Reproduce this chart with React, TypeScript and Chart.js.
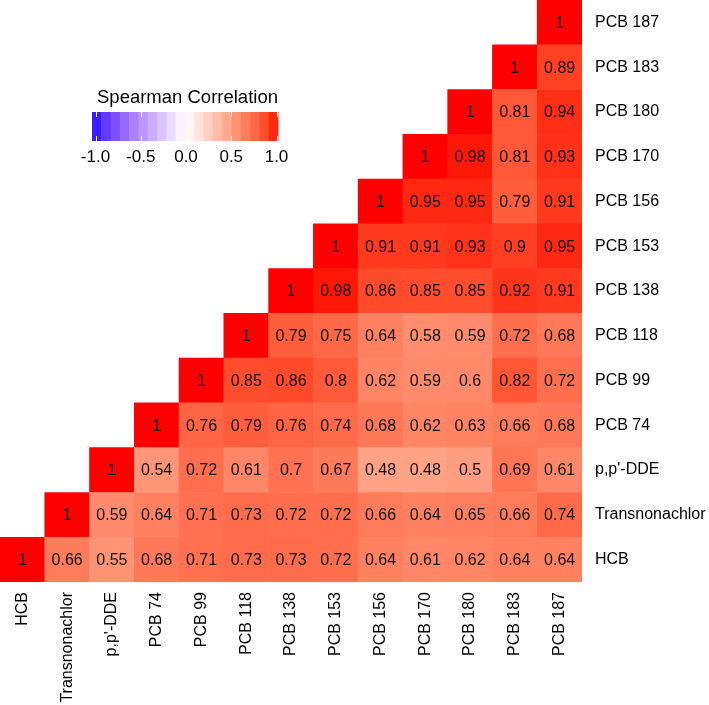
import React, { useEffect, useRef } from "react";
import { Chart, registerables } from "chart.js";

Chart.register(...registerables);

// Variable names (columns left→right, rows bottom→top)
const variables = [
  "HCB",
  "Transnonachlor",
  "p,p'-DDE",
  "PCB 74",
  "PCB 99",
  "PCB 118",
  "PCB 138",
  "PCB 153",
  "PCB 156",
  "PCB 170",
  "PCB 180",
  "PCB 183",
  "PCB 187",
];

// Each row lists correlations starting at the diagonal, going right
const rowHCB = [1, 0.66, 0.55, 0.68, 0.71, 0.73, 0.73, 0.72, 0.64, 0.61, 0.62, 0.64, 0.64];
const rowTransnonachlor = [1, 0.59, 0.64, 0.71, 0.73, 0.72, 0.72, 0.66, 0.64, 0.65, 0.66, 0.74];
const rowDDE = [1, 0.54, 0.72, 0.61, 0.7, 0.67, 0.48, 0.48, 0.5, 0.69, 0.61];
const rowPCB74 = [1, 0.76, 0.79, 0.76, 0.74, 0.68, 0.62, 0.63, 0.66, 0.68];
const rowPCB99 = [1, 0.85, 0.86, 0.8, 0.62, 0.59, 0.6, 0.82, 0.72];
const rowPCB118 = [1, 0.79, 0.75, 0.64, 0.58, 0.59, 0.72, 0.68];
const rowPCB138 = [1, 0.98, 0.86, 0.85, 0.85, 0.92, 0.91];
const rowPCB153 = [1, 0.91, 0.91, 0.93, 0.9, 0.95];
const rowPCB156 = [1, 0.95, 0.95, 0.79, 0.91];
const rowPCB170 = [1, 0.98, 0.81, 0.93];
const rowPCB180 = [1, 0.81, 0.94];
const rowPCB183 = [1, 0.89];
const rowPCB187 = [1];

const rows = [
  rowHCB,
  rowTransnonachlor,
  rowDDE,
  rowPCB74,
  rowPCB99,
  rowPCB118,
  rowPCB138,
  rowPCB153,
  rowPCB156,
  rowPCB170,
  rowPCB180,
  rowPCB183,
  rowPCB187,
];

const legendTitle = "Spearman Correlation";
const legendTicks = [-1, -0.5, 0, 0.5, 1];
const legendTickLabels = ["-1.0", "-0.5", "0.0", "0.5", "1.0"];

const FONT = "'Liberation Sans', Arial, Helvetica, sans-serif";

// ---- CIELAB colour interpolation (white -> red / white -> blue) ----
function toLin(c: number) {
  c /= 255;
  return c <= 0.04045 ? c / 12.92 : Math.pow((c + 0.055) / 1.055, 2.4);
}
function fromLin(c: number) {
  const v = c <= 0.0031308 ? 12.92 * c : 1.055 * Math.pow(c, 1 / 2.4) - 0.055;
  return Math.max(0, Math.min(255, Math.round(v * 255)));
}
const Xn = 0.95047, Yn = 1.0, Zn = 1.08883;
function rgbToLab(r: number, g: number, b: number) {
  const R = toLin(r), G = toLin(g), B = toLin(b);
  const X = 0.4124564 * R + 0.3575761 * G + 0.1804375 * B;
  const Y = 0.2126729 * R + 0.7151522 * G + 0.072175 * B;
  const Z = 0.0193339 * R + 0.119192 * G + 0.9503041 * B;
  const f = (t: number) => (t > 0.008856 ? Math.cbrt(t) : 7.787 * t + 16 / 116);
  const fx = f(X / Xn), fy = f(Y / Yn), fz = f(Z / Zn);
  return [116 * fy - 16, 500 * (fx - fy), 200 * (fy - fz)];
}
function labToRgb(L: number, a: number, b: number) {
  const fy = (L + 16) / 116;
  const fx = fy + a / 500;
  const fz = fy - b / 200;
  const inv = (t: number) => (t * t * t > 0.008856 ? t * t * t : (t - 16 / 116) / 7.787);
  const X = inv(fx) * Xn, Y = inv(fy) * Yn, Z = inv(fz) * Zn;
  const R = 3.2404542 * X - 1.5371385 * Y - 0.4985314 * Z;
  const G = -0.969266 * X + 1.8760108 * Y + 0.041556 * Z;
  const B = 0.0556434 * X - 0.2040259 * Y + 1.0572252 * Z;
  return `rgb(${fromLin(R)},${fromLin(G)},${fromLin(B)})`;
}
const LAB_WHITE = rgbToLab(255, 255, 255);
const LAB_RED = rgbToLab(255, 0, 0);
const LAB_BLUE = rgbToLab(0, 0, 255);
function colorFor(v: number) {
  const t = Math.min(1, Math.abs(v));
  const end = v >= 0 ? LAB_RED : LAB_BLUE;
  return labToRgb(
    LAB_WHITE[0] + (end[0] - LAB_WHITE[0]) * t,
    LAB_WHITE[1] + (end[1] - LAB_WHITE[1]) * t,
    LAB_WHITE[2] + (end[2] - LAB_WHITE[2]) * t
  );
}

function valueAt(rowIdx: number, colIdx: number): number | null {
  const k = colIdx - rowIdx;
  if (k < 0) return null;
  const v = rows[rowIdx][k];
  return v === undefined ? null : v;
}

const cellLabelPlugin = {
  id: "cellLabels",
  afterDatasetsDraw(chart: any) {
    const ctx = chart.ctx;
    ctx.save();
    ctx.font = `16px ${FONT}`;
    ctx.fillStyle = "#111111";
    ctx.textAlign = "center";
    ctx.textBaseline = "middle";
    chart.data.datasets.forEach((ds: any, di: number) => {
      const meta = chart.getDatasetMeta(di);
      meta.data.forEach((el: any, ci: number) => {
        const v = valueAt(di, ci);
        if (v === null || !el) return;
        const cx = el.x;
        const cy = (el.y + el.base) / 2;
        ctx.fillText(String(v), cx, cy + 1);
      });
    });
    ctx.restore();
  },
};

const colorbarPlugin = {
  id: "colorbar",
  afterDraw(chart: any) {
    const ctx = chart.ctx;
    const barLeft = 92, barRight = 278, barTop = 112, barBottom = 141;
    const nbin = 20;
    const bw = (barRight - barLeft) / nbin;
    ctx.save();
    // title
    ctx.font = `18.5px ${FONT}`;
    ctx.fillStyle = "#000";
    ctx.textAlign = "left";
    ctx.textBaseline = "middle";
    ctx.fillText(legendTitle, 97, 98);
    // bins
    for (let i = 0; i < nbin; i++) {
      const v = -1 + (2 * (i + 0.5)) / nbin;
      ctx.fillStyle = colorFor(v);
      ctx.fillRect(barLeft + i * bw, barTop, bw + 0.5, barBottom - barTop);
    }
    const xOf = (v: number) => 186 + v * 90.5;
    // tick marks
    ctx.strokeStyle = "#ffffff";
    ctx.lineWidth = 1;
    legendTicks.forEach((v) => {
      const x = Math.round(xOf(v)) + 0.5;
      ctx.beginPath();
      ctx.moveTo(x, barTop);
      ctx.lineTo(x, barTop + 5);
      ctx.moveTo(x, barBottom - 5);
      ctx.lineTo(x, barBottom);
      ctx.stroke();
    });
    // tick labels
    ctx.font = `17px ${FONT}`;
    ctx.fillStyle = "#000";
    ctx.textAlign = "center";
    legendTickLabels.forEach((lab, i) => {
      ctx.fillText(lab, xOf(legendTicks[i]), 157);
    });
    ctx.restore();
  },
};

export default function App() {
  const ref = useRef<HTMLCanvasElement | null>(null);

  useEffect(() => {
    if (!ref.current) return;
    const datasets = rows.map((_, ri) => ({
      label: variables[ri],
      data: variables.map((_, ci) => (valueAt(ri, ci) === null ? null : [ri, ri + 1])),
      backgroundColor: variables.map((_, ci) => {
        const v = valueAt(ri, ci);
        return v === null ? "rgba(0,0,0,0)" : colorFor(v);
      }),
      borderWidth: 0,
      barPercentage: 1,
      categoryPercentage: 1,
      grouped: false,
    }));

    const chart = new Chart(ref.current, {
      type: "bar",
      data: { labels: variables, datasets: datasets as any },
      options: {
        animation: false,
        responsive: false,
        maintainAspectRatio: false,
        layout: { padding: 0 },
        plugins: {
          legend: { display: false },
          tooltip: { enabled: false },
        },
        scales: {
          x: {
            type: "category",
            position: "bottom",
            grid: { display: false, drawTicks: false },
            border: { display: false },
            ticks: {
              autoSkip: false,
              minRotation: 90,
              maxRotation: 90,
              padding: 10,
              color: "#000",
              font: { family: FONT, size: 16 },
            },
            afterFit(scale: any) {
              scale.height = 123;
              scale.paddingLeft = 0;
              scale.paddingRight = 0;
            },
          },
          y: {
            type: "linear",
            position: "right",
            min: 0,
            max: variables.length,
            grid: { display: false, drawTicks: false },
            border: { display: false },
            afterBuildTicks(scale: any) {
              scale.ticks = variables.map((_, i) => ({ value: i + 0.5 }));
            },
            ticks: {
              padding: 13,
              color: "#000",
              font: { family: FONT, size: 16 },
              callback: (v: any) => variables[Math.floor(Number(v))] ?? "",
            },
            afterFit(scale: any) {
              scale.width = 127;
              scale.paddingTop = 0;
              scale.paddingBottom = 0;
            },
          },
        },
      },
      plugins: [cellLabelPlugin, colorbarPlugin],
    });
    return () => chart.destroy();
  }, []);

  return (
    <div style={{ position: "absolute", left: 0, top: 0, width: 709, height: 705, background: "#fff" }}>
      <canvas ref={ref} width={709} height={705} style={{ display: "block" }} />
    </div>
  );
}
